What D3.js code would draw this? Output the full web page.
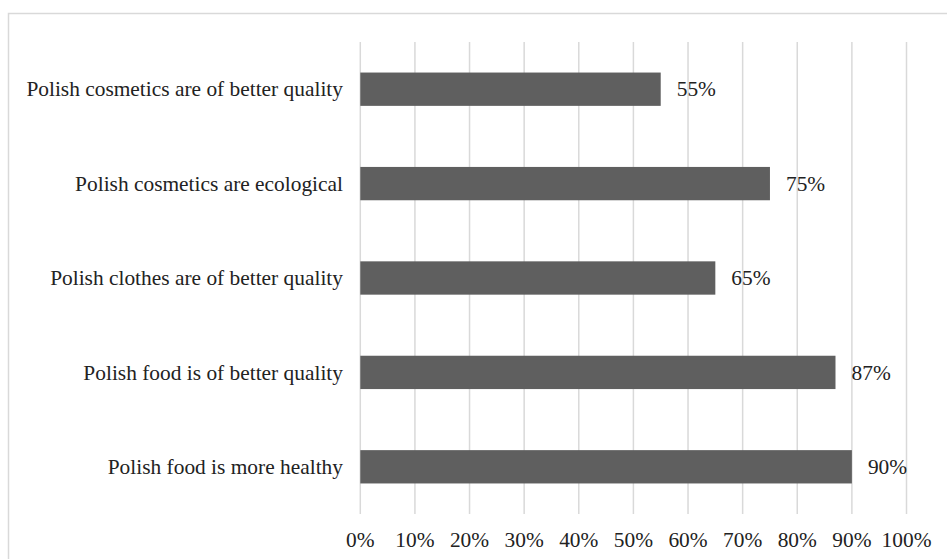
<!DOCTYPE html>
<html>
<head>
<meta charset="utf-8">
<script src="https://cdn.jsdelivr.net/npm/d3@7"></script>
<style>
  html, body { margin: 0; padding: 0; background: #fff; }
  svg { display: block; }
  text { font-family: 'Liberation Serif', 'Times New Roman', Times, serif; font-size: 21.4px; fill: #222; }
</style>
</head>
<body>
<svg id="chart" width="947" height="559"></svg>
<script>
// data
const categories = [
  'Polish cosmetics are of better quality',
  'Polish cosmetics are ecological',
  'Polish clothes are of better quality',
  'Polish food is of better quality',
  'Polish food is more healthy'
];
const values = [55, 75, 65, 87, 90];
const ticks = [0, 10, 20, 30, 40, 50, 60, 70, 80, 90, 100];

const svg = d3.select('#chart');

// outer frame (cut off on right and bottom like the reference)
svg.append('rect')
  .attr('x', 8.5).attr('y', 13.5)
  .attr('width', 1000).attr('height', 1000)
  .attr('fill', 'none')
  .attr('stroke', '#d9d9d9')
  .attr('stroke-width', 1.5);

const plot = { left: 360.3, right: 906.5, top: 42, bottom: 514 };

const x = d3.scaleLinear().domain([0, 100]).range([plot.left, plot.right]);
const y = d3.scaleBand().domain(categories).range([plot.top, plot.bottom]).paddingInner(0.647).paddingOuter(0.3235);

// grid lines
svg.append('g')
  .selectAll('line')
  .data(ticks)
  .enter()
  .append('line')
  .attr('x1', d => x(d)).attr('x2', d => x(d))
  .attr('y1', plot.top).attr('y2', plot.bottom)
  .attr('stroke', '#d9d9d9')
  .attr('stroke-width', 1.5);

// x tick labels
svg.append('g')
  .selectAll('text')
  .data(ticks)
  .enter()
  .append('text')
  .attr('x', d => x(d))
  .attr('y', 547)
  .attr('text-anchor', 'middle')
  .text(d => d + '%');

const rows = categories.map((c, i) => ({ category: c, value: values[i] }));

// bars
svg.append('g')
  .selectAll('rect')
  .data(rows)
  .enter()
  .append('rect')
  .attr('x', x(0))
  .attr('y', d => y(d.category))
  .attr('width', d => x(d.value) - x(0))
  .attr('height', y.bandwidth())
  .attr('fill', '#5f5f5f');

// category labels
svg.append('g')
  .selectAll('text')
  .data(rows)
  .enter()
  .append('text')
  .attr('x', 343)
  .attr('y', d => y(d.category) + y.bandwidth() / 2)
  .attr('dy', '0.34em')
  .attr('text-anchor', 'end')
  .text(d => d.category);

// value labels
svg.append('g')
  .selectAll('text')
  .data(rows)
  .enter()
  .append('text')
  .attr('x', d => x(d.value) + 16)
  .attr('y', d => y(d.category) + y.bandwidth() / 2)
  .attr('dy', '0.34em')
  .text(d => d.value + '%');
</script>
</body>
</html>
